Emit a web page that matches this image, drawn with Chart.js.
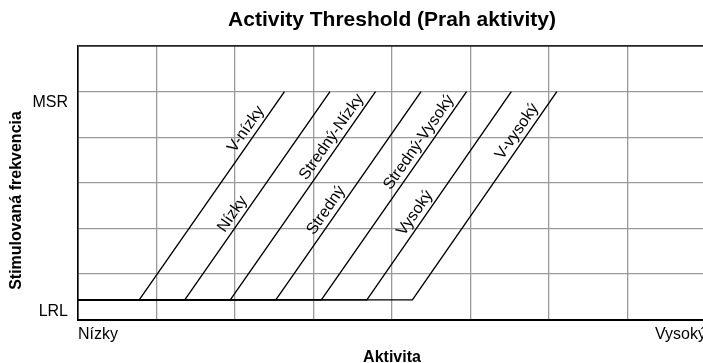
<!DOCTYPE html>
<html>
<head>
<meta charset="utf-8">
<script src="https://cdn.jsdelivr.net/npm/chart.js@4/dist/chart.umd.min.js"></script>
<style>
  html, body { margin: 0; padding: 0; background: #fff; overflow: hidden; width: 703px; height: 363px; }
  #wrap { width: 712px; height: 367px; }
</style>
</head>
<body>
<div id="wrap"><canvas id="c" width="712" height="367"></canvas></div>
<script>
// Threshold curves: flat at LRL, then a ramp up to MSR.
const categories = ['V-nízky', 'Nízky', 'Stredný-Nízky', 'Stredný', 'Stredný-Vysoký', 'Vysoký', 'V-vysoký'];
const LRL = 0.43;                 // lower rate limit level
const MSR = 5;                    // maximum sensor rate level
const rampStart = [0.78, 1.36, 1.94, 2.52, 3.10, 3.68, 4.26];   // activity where the rate starts rising
const rampEnd   = [2.63, 3.21, 3.79, 4.37, 4.95, 5.52, 6.10];   // activity where MSR is reached
const xTickLabels = ['Nízky', 'Vysoký'];
const yTickLabels = ['LRL', 'MSR'];

const FONT = '"Liberation Sans", Arial, Helvetica, sans-serif';

const datasets = categories.map((name, i) => ({
  label: name,
  data: [
    { x: 0, y: LRL },
    { x: rampStart[i], y: LRL },
    { x: rampEnd[i], y: MSR }
  ],
  borderColor: '#000',
  borderWidth: 1.4,
  pointRadius: 0,
  fill: false,
  tension: 0
}));

// Curve names along each ramp, and the rotated y-axis title.
const annotate = {
  id: 'annotate',
  afterDatasetsDraw(chart, args, opts) {
    const { ctx } = chart;
    const xs = chart.scales.x, ys = chart.scales.y;
    ctx.save();
    ctx.font = '16px ' + FONT;
    ctx.fillStyle = '#000';
    ctx.textAlign = 'center';
    ctx.textBaseline = 'middle';
    categories.forEach((name, i) => {
      const x0 = xs.getPixelForValue(rampStart[i]), y0 = ys.getPixelForValue(LRL);
      const x1 = xs.getPixelForValue(rampEnd[i]), y1 = ys.getPixelForValue(MSR);
      const ang = Math.atan2(y1 - y0, x1 - x0);
      const t = (opts.levels[i] - LRL) / (MSR - LRL);
      const px = x0 + t * (x1 - x0), py = y0 + t * (y1 - y0);
      const nx = Math.sin(ang), ny = -Math.cos(ang);
      ctx.save();
      ctx.translate(px + nx * opts.gap, py + ny * opts.gap);
      ctx.rotate(ang);
      ctx.fillText(name, 0, 0);
      ctx.restore();
    });
    // y-axis title
    const area = chart.chartArea;
    ctx.font = 'bold 16px ' + FONT;
    ctx.translate(16.2, area.bottom - 119);
    ctx.rotate(-Math.PI / 2);
    ctx.fillText('Stimulovaná frekvencia', 0, 0);
    ctx.restore();
  }
};

const gridGray = '#9a9a9a';

new Chart(document.getElementById('c'), {
  type: 'line',
  data: { datasets },
  plugins: [annotate],
  options: {
    responsive: false,
    animation: false,
    devicePixelRatio: 1,
    layout: { padding: { left: 0, right: 6, top: 0, bottom: 0 } },
    plugins: {
      legend: { display: false },
      tooltip: { enabled: false },
      title: {
        display: true,
        fullSize: false,
        text: 'Activity Threshold (Prah aktivity)',
        color: '#000',
        font: { family: FONT, size: 21, weight: 'bold', lineHeight: 1.2 },
        padding: { top: 8, bottom: 12.8 }
      },
      annotate: { levels: [4.05, 2.19, 3.88, 2.27, 3.76, 2.21, 4.0], gap: 10 }
    },
    scales: {
      x: {
        type: 'linear',
        min: 0,
        max: 8,
        afterFit(scale) { scale.height = 47.5; },
        grid: {
          color: gridGray,
          lineWidth: 1.3,
          drawTicks: false
        },
        border: { display: true, color: '#000', width: 2 },
        ticks: {
          stepSize: 1,
          autoSkip: false,
          maxRotation: 0,
          align: 'inner',
          padding: 5,
          color: '#000',
          font: { family: FONT, size: 16 },
          callback: (v) => v === 0 ? xTickLabels[0] : (v === 8 ? xTickLabels[1] : '')
        },
        title: {
          display: true,
          text: 'Aktivita',
          color: '#000',
          font: { family: FONT, size: 16, weight: 'bold', lineHeight: 1.2 },
          padding: 0
        }
      },
      y: {
        type: 'linear',
        min: 0,
        max: 6,
        afterFit(scale) { scale.width = 78; },
        afterBuildTicks(scale) {
          scale.ticks = [0, LRL, 1, 2, 3, 4, 5, 6].map(v => ({ value: v }));
        },
        grid: {
          color: (c) => c.tick && c.tick.value === LRL ? 'rgba(0,0,0,0)' : (c.tick && c.tick.value === 6 ? '#222' : gridGray),
          lineWidth: (c) => c.tick && c.tick.value === 6 ? 1.8 : 1.3,
          drawTicks: false
        },
        border: { display: true, color: '#000', width: 1.6 },
        ticks: {
          autoSkip: false,
          padding: 10,
          labelOffset: 11.5,
          color: '#000',
          font: { family: FONT, size: 16 },
          callback: (v) => v === LRL ? yTickLabels[0] : (v === MSR ? yTickLabels[1] : '')
        }
      }
    }
  }
});
</script>
</body>
</html>
